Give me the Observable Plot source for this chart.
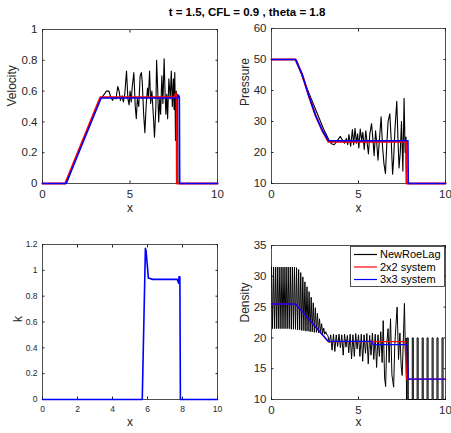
<!DOCTYPE html>
<html><head><meta charset="utf-8">
<script src="https://cdn.jsdelivr.net/npm/d3@7"></script>
<script src="https://cdn.jsdelivr.net/npm/@observablehq/plot@0.6"></script>
<style>
body{margin:0;background:#fff;}
#fig{position:relative;width:451px;height:433px;font-family:"Liberation Sans",Arial,Helvetica,sans-serif;}
.panel{position:absolute;}
#title{position:absolute;left:117px;width:260px;top:5px;text-align:center;font-weight:bold;font-size:11.5px;line-height:14px;color:#000;}
</style></head>
<body><div id="fig"><div id="title">t = 1.5, CFL = 0.9 , theta = 1.8</div></div>
<script>
const title = "t = 1.5, CFL = 0.9 , theta = 1.8";
const seriesNames = ["NewRoeLag", "2x2 system", "3x3 system"];
const seriesColors = ["#000000", "#ff0000", "#0000ff"];

// Velocity
const velocityBlack = [[0,0],[1.3,0],[1.4,0.01],[2.0,0.19],[2.5,0.33],[3.0,0.47],[3.3,0.545],[3.5,0.575],[3.65,0.60],[3.8,0.60],[3.9,0.56],[4.0,0.54],[4.1,0.56],[4.2,0.55],[4.3,0.63],[4.38,0.60],[4.45,0.54],[4.55,0.57],[4.62,0.53],[4.7,0.58],[4.8,0.73],[4.88,0.55],[4.95,0.51],[5.0,0.60],[5.07,0.53],[5.12,0.62],[5.22,0.72],[5.3,0.50],[5.36,0.42],[5.42,0.55],[5.5,0.50],[5.58,0.70],[5.65,0.72],[5.7,0.66],[5.78,0.45],[5.85,0.33],[5.92,0.50],[6.0,0.62],[6.05,0.56],[6.12,0.73],[6.18,0.52],[6.25,0.60],[6.33,0.45],[6.4,0.30],[6.48,0.50],[6.52,0.80],[6.58,0.62],[6.64,0.40],[6.7,0.55],[6.75,0.45],[6.82,0.70],[6.88,0.52],[6.95,0.81],[7.0,0.60],[7.05,0.45],[7.1,0.58],[7.15,0.42],[7.22,0.68],[7.3,0.55],[7.36,0.73],[7.42,0.50],[7.48,0.68],[7.52,0.48],[7.56,0.72],[7.6,0.28],[7.64,0.60],[7.68,0.52],[7.72,0.58],[7.74,0.0],[10,0]];
const velocityRed = [[0,0],[1.3,0],[3.3,0.56],[7.55,0.56],[7.62,0.585],[7.66,0.56],[7.68,0],[10,0]];
const velocityBlue = [[0,0],[1.35,0],[3.35,0.555],[7.72,0.555],[7.78,0.572],[7.82,0.56],[7.84,0],[10,0]];

// Pressure
const pressureBlack = [[0,50],[1.35,50],[1.45,49.6],[1.8,44],[2.2,38.5],[2.6,33],[3.0,27.5],[3.3,24],[3.45,22.8],[3.6,22.5],[3.75,23.5],[3.95,25.2],[4.1,23.8],[4.2,23],[4.3,24.5],[4.38,22.5],[4.45,25.8],[4.55,22],[4.65,27.4],[4.72,22.5],[4.8,27.8],[4.88,23],[4.95,26],[5.02,21.5],[5.1,27.6],[5.18,24],[5.25,26.5],[5.33,21],[5.42,27],[5.5,23],[5.57,19.5],[5.65,26],[5.75,29.3],[5.83,24],[5.9,19],[5.98,27],[6.05,23],[6.12,17.5],[6.2,24],[6.3,31.5],[6.38,22],[6.46,16.5],[6.55,13.2],[6.62,22],[6.7,30],[6.8,32.5],[6.88,24],[6.96,13],[7.02,18],[7.1,28],[7.2,36.5],[7.27,24],[7.33,15],[7.4,20],[7.47,30],[7.55,14],[7.62,37.5],[7.68,20],[7.73,25],[7.76,10],[10,10]];
const pressureRed = [[0,50],[1.38,50],[1.76,45.2],[2.15,38.2],[2.53,32.0],[2.91,27.2],[3.26,23.5],[7.74,23.5],[7.76,10],[10,10]];
const pressureBlue = [[0,50],[1.38,50],[1.76,45.2],[2.15,38.2],[2.53,32.0],[2.91,27.2],[3.28,23.8],[7.84,23.8],[7.86,10],[10,10]];

// k
const kBlue = [[0,0],[5.7,0],[5.88,1.17],[5.92,1.15],[6.05,0.94],[6.3,0.93],[7.7,0.93],[7.78,0.9],[7.8,0.95],[7.83,0.92],[7.85,0.95],[7.88,0],[10,0]];

// Density
const densityBlack = [[0,31.5],[0.06,21.5],[0.12,31.5],[0.18,21.5],[0.24,31.5],[0.30,21.5],[0.36,31.5],[0.42,21.5],[0.48,31.5],[0.54,21.5],[0.60,31.5],[0.66,21.5],[0.72,31.5],[0.78,21.5],[0.84,31.5],[0.90,21.5],[0.96,31.5],[1.02,21.5],[1.08,31.5],[1.14,21.4],[1.20,31.5],[1.26,21.4],[1.32,31.5],[1.38,21.4],[1.44,31.4],[1.50,21.3],[1.56,31.1],[1.62,21.3],[1.68,30.6],[1.74,21.2],[1.80,29.9],[1.86,21.2],[1.92,29.1],[1.98,21.1],[2.04,28.3],[2.10,21.1],[2.16,27.5],[2.22,21.0],[2.28,26.6],[2.34,21.0],[2.40,25.7],[2.46,20.9],[2.52,24.9],[2.58,20.9],[2.64,24.0],[2.70,20.8],[2.76,23.1],[2.82,20.8],[2.88,22.3],[2.94,20.7],[3.00,21.6],[3.06,20.6],[3.12,21.0],[3.18,20.5],
[3.24,20.4],[3.32,19.2],[3.40,20.5],[3.48,18.0],[3.56,20.6],[3.64,17.8],[3.72,20.5],[3.80,18.6],[3.88,20.6],[3.96,18.4],[4.04,20.5],[4.12,17.2],[4.20,20.6],[4.28,18.5],[4.36,20.4],[4.44,17.6],[4.52,20.6],[4.60,16.6],[4.68,20.5],[4.76,17.0],[4.84,20.7],[4.92,18.2],[5.00,20.5],[5.08,17.0],[5.16,20.6],[5.24,16.2],[5.32,20.5],[5.40,17.5],[5.48,20.7],[5.56,15.8],[5.64,20.4],[5.72,17.2],[5.80,20.8],[5.88,16.5],[5.96,20.6],[6.04,15.2],[6.12,20.5],[6.20,17.0],[6.28,21.0],[6.36,16.0],[6.42,22.8],[6.50,13.5],[6.56,12.1],[6.62,19.0],[6.70,21.5],[6.76,16.0],[6.84,23.1],[6.92,14.0],[7.02,12.0],[7.08,18.5],[7.15,22.0],[7.22,25.0],[7.30,16.5],[7.38,20.8],[7.45,15.5],[7.51,13.9],[7.58,20.0],[7.64,25.6],[7.70,17.0],[7.74,20.0],[7.76,10],
[7.80,10],[7.80,20],[7.86,20],[7.86,10],[8.09,10],[8.09,20],[8.15,20],[8.15,10],[8.37,10],[8.37,20],[8.43,20],[8.43,10],[8.66,10],[8.66,20],[8.72,20],[8.72,10],[8.94,10],[8.94,20],[9.00,20],[9.00,10],[9.23,10],[9.23,20],[9.29,20],[9.29,10],[9.51,10],[9.51,20],[9.57,20],[9.57,10],[9.80,10],[9.80,20],[9.86,20],[9.86,10],[10,10]];
const densityRed = [[0,25.5],[1.38,25.5],[3.26,19.4],[7.68,19.4],[7.76,13.3],[10,13.3]];
const densityBlue = [[0,25.5],[1.38,25.5],[3.26,19.45],[5.75,19.45],[5.85,18.9],[7.8,18.9],[7.86,13.3],[10,13.3]];

const xTicksA = [0,5,10];
const xTicksK = [0,2,4,6,8,10];
const yTicksVel = [0,0.2,0.4,0.6,0.8,1];
const yTicksPre = [10,20,30,40,50,60];
const yTicksK = [0,0.2,0.4,0.6,0.8,1,1.2];
const yTicksDen = [10,15,20,25,30,35];

const AX = "#262626";
const FONT = '"Liberation Sans", Arial, Helvetica, sans-serif';
const fmt = d3.format("~g");

function panel(o) {
  const tk = 2.5;
  const marks = [
    Plot.frame({stroke: AX, strokeWidth: 0.8}),
    Plot.axisX({anchor: "bottom", ticks: o.xticks, tickSize: -tk, tickPadding: tk + o.xpad, tickFormat: fmt, label: null, color: AX, fontSize: o.fs}),
    Plot.axisX({anchor: "top", ticks: o.xticks, tickSize: -tk, tickFormat: () => "", label: null, color: AX}),
    Plot.axisY({anchor: "left", ticks: o.yticks, tickSize: -tk, tickPadding: tk + o.ypad, tickFormat: fmt, label: null, color: AX, fontSize: o.fs}),
    Plot.axisY({anchor: "right", ticks: o.yticks, tickSize: -tk, tickFormat: () => "", label: null, color: AX}),
    ...o.lines.map(l => Plot.line(l.data, {x: d => d[0], y: d => d[1], stroke: l.color, strokeWidth: l.w})),
    Plot.text([o.xlabel], {frameAnchor: "bottom", dy: o.xlabDy, text: d => d, fill: AX, fontSize: o.lfs}),
    Plot.text([o.ylabel], {frameAnchor: "left", dx: o.ylabDx, rotate: -90, text: d => d, fill: AX, fontSize: o.lfs})
  ];
  const svg = Plot.plot({
    width: o.width, height: o.height,
    marginLeft: o.ml, marginRight: o.mr, marginTop: o.mt, marginBottom: o.mb,
    style: {fontFamily: FONT, background: "transparent", overflow: "visible"},
    x: {domain: [0, 10]},
    y: {domain: o.ydomain},
    marks
  });
  const div = document.createElement("div");
  div.className = "panel";
  div.style.left = o.left + "px";
  div.style.top = o.top + "px";
  div.appendChild(svg);
  document.getElementById("fig").appendChild(div);
}

panel({left: 0, top: 0, width: 225, height: 216, ml: 42, mr: 8, mt: 29, mb: 33,
  ydomain: [0, 1], xticks: xTicksA, yticks: yTicksVel, xpad: 6, ypad: 5, fs: 11.5, lfs: 12,
  xlabel: "x", ylabel: "Velocity", xlabDy: 28, ylabDx: -30,
  lines: [{data: velocityBlack, color: seriesColors[0], w: 1.1}, {data: velocityRed, color: seriesColors[1], w: 2}, {data: velocityBlue, color: seriesColors[2], w: 1.6}]});

panel({left: 225, top: 0, width: 226, height: 216, ml: 46, mr: 6, mt: 28, mb: 33,
  ydomain: [10, 60], xticks: xTicksA, yticks: yTicksPre, xpad: 6, ypad: 5, fs: 11.5, lfs: 12,
  xlabel: "x", ylabel: "Pressure", xlabDy: 28, ylabDx: -26,
  lines: [{data: pressureBlack, color: seriesColors[0], w: 1.1}, {data: pressureRed, color: seriesColors[1], w: 2}, {data: pressureBlue, color: seriesColors[2], w: 1.6}]});

panel({left: 0, top: 216, width: 225, height: 217, ml: 42, mr: 8, mt: 28, mb: 34,
  ydomain: [0, 1.2], xticks: xTicksK, yticks: yTicksK, xpad: 6, ypad: 5, fs: 8.5, lfs: 12,
  xlabel: "x", ylabel: "k", xlabDy: 26, ylabDx: -24,
  lines: [{data: kBlue, color: seriesColors[2], w: 1.6}]});

panel({left: 225, top: 216, width: 226, height: 217, ml: 46, mr: 6, mt: 29, mb: 34,
  ydomain: [10, 35], xticks: xTicksA, yticks: yTicksDen, xpad: 6, ypad: 5, fs: 11.5, lfs: 12,
  xlabel: "x", ylabel: "Density", xlabDy: 26, ylabDx: -26,
  lines: [{data: densityBlack, color: seriesColors[0], w: 1.0}, {data: densityRed, color: seriesColors[1], w: 1.4}, {data: densityBlue, color: seriesColors[2], w: 1.3}]});

// Legend box (top-right of Density panel)
const lg = d3.select("#fig").append("svg").attr("width", 451).attr("height", 433)
  .style("position", "absolute").style("left", "0px").style("top", "0px").style("pointer-events", "none");
lg.append("rect").attr("x", 350.5).attr("y", 246.5).attr("width", 94).attr("height", 40)
  .attr("fill", "#fff").attr("stroke", AX).attr("stroke-width", 0.8);
seriesNames.forEach((name, i) => {
  const y = 254.5 + i * 12.5;
  lg.append("line").attr("x1", 354).attr("x2", 377).attr("y1", y).attr("y2", y)
    .attr("stroke", seriesColors[i]).attr("stroke-width", 1.2);
  lg.append("text").attr("x", 380).attr("y", y).attr("dy", "0.35em").attr("font-size", 11)
    .attr("font-family", FONT).attr("fill", "#000").text(name);
});
</script>
</body></html>
